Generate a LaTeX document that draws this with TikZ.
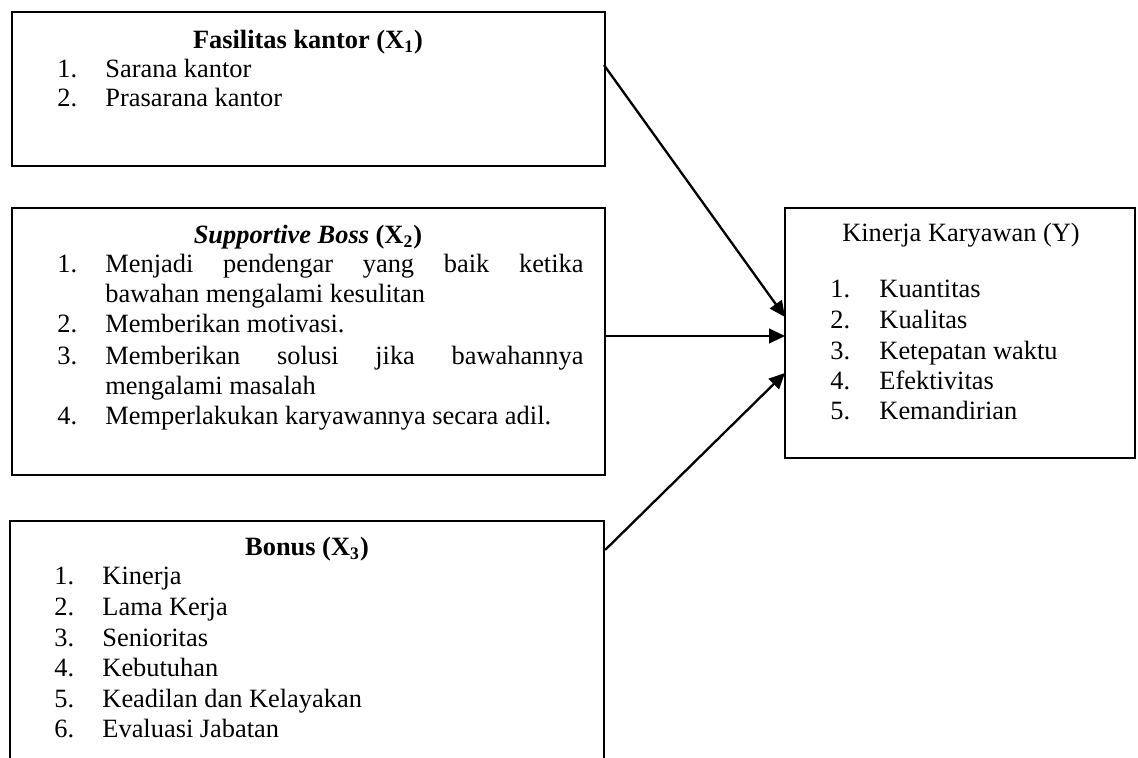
\documentclass[tikz,border=0pt]{standalone}
\usepackage{fontspec}
\setmainfont{Liberation Serif}
\usetikzlibrary{arrows.meta,calc}
\begin{document}
\begin{tikzpicture}[x=0.4545pt,y=-0.4545pt,
  box/.style={draw,line width=1pt,inner sep=0,outer sep=0,anchor=north west},
  txt/.style={inner sep=0,anchor=base west,font=\fontsize{12}{14}\selectfont},
  ttl/.style={inner sep=0,anchor=base,font=\fontsize{12}{14}\selectfont\bfseries},
  arr/.style={line width=1.05pt,-{Triangle[length=7.2pt,width=6.6pt]}}]
\clip (0,0) rectangle (1138,758);
% boxes
\node[box,minimum width=269.5pt,minimum height=70pt] (b1) at (12,12) {};
\node[box,minimum width=269.5pt,minimum height=121.4pt] (b2) at (12,208) {};
\node[box,minimum width=270pt,minimum height=120pt] (b3) at (10,521) {};
\node[box,minimum width=159.1pt,minimum height=113.6pt] (Y) at (785,208) {};
% box 1
\node[ttl] (t1) at (308,49) {Fasilitas kantor (X\textsubscript{1})};
\node[txt] (n11) at (57,78) {1.};
\node[txt] (i11) at (105,78) {Sarana kantor};
\node[txt] (n12) at (57,107) {2.};
\node[txt] (i12) at (105,107) {Prasarana kantor};
% box 2
\node[ttl] (t2) at (308,244) {\textit{Supportive Boss} (X\textsubscript{2})};
\node[txt] (n21) at (57,273) {1.};
\node[txt] (i21a) at (105,273) {\makebox[217.3pt][s]{Menjadi pendengar yang baik ketika}};
\node[txt] (i21b) at (105,303) {bawahan mengalami kesulitan};
\node[txt] (n22) at (57,333) {2.};
\node[txt] (i22) at (105,333) {Memberikan motivasi.};
\node[txt] (n23) at (57,365) {3.};
\node[txt] (i23a) at (105,365) {\makebox[217.3pt][s]{Memberikan solusi jika bawahannya}};
\node[txt] (i23b) at (105,395) {mengalami masalah};
\node[txt] (n24) at (57,425) {4.};
\node[txt] (i24) at (105,425) {Memperlakukan karyawannya secara adil.};
% box 3
\node[ttl] (t3) at (307,556) {Bonus (X\textsubscript{3})};
\node[txt] (n31) at (54,585) {1.};
\node[txt] (i31) at (102,585) {Kinerja};
\node[txt] (n32) at (54,616) {2.};
\node[txt] (i32) at (102,616) {Lama Kerja};
\node[txt] (n33) at (54,647) {3.};
\node[txt] (i33) at (102,647) {Senioritas};
\node[txt] (n34) at (54,677) {4.};
\node[txt] (i34) at (102,677) {Kebutuhan};
\node[txt] (n35) at (54,708) {5.};
\node[txt] (i35) at (102,708) {Keadilan dan Kelayakan};
\node[txt] (n36) at (54,738) {6.};
\node[txt] (i36) at (102,738) {Evaluasi Jabatan};
% box Y
\node[inner sep=0,anchor=base,font=\fontsize{12}{14}\selectfont] (tY) at (961,242) {Kinerja Karyawan (Y)};
\node[txt] (nY1) at (830,298) {1.};
\node[txt] (iY1) at (879,298) {Kuantitas};
\node[txt] (nY2) at (830,329) {2.};
\node[txt] (iY2) at (879,329) {Kualitas};
\node[txt] (nY3) at (830,360) {3.};
\node[txt] (iY3) at (879,360) {Ketepatan waktu};
\node[txt] (nY4) at (830,390) {4.};
\node[txt] (iY4) at (879,390) {Efektivitas};
\node[txt] (nY5) at (830,420) {5.};
\node[txt] (iY5) at (879,420) {Kemandirian};
% connectors
\coordinate (s1) at ($(b1.north east)+(-1,53)$);
\coordinate (s2) at ($(b2.north east)+(-1,128)$);
\coordinate (s3) at ($(b3.north east)+(1,29)$);
\coordinate (e1) at ($(Y.north west)+(0,109)$);
\coordinate (e2) at ($(Y.north west)+(0,128)$);
\coordinate (e3) at ($(Y.north west)+(0,165)$);
\draw[arr] (s1) -- (e1);
\draw[arr] (s2) -- (e2);
\draw[arr] (s3) -- (e3);
\end{tikzpicture}
\end{document}
